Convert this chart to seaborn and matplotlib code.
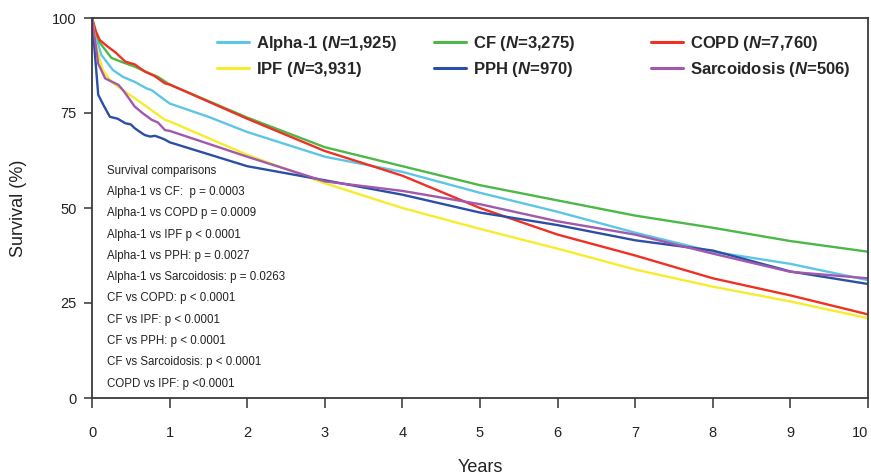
import numpy as np
import pandas as pd
import seaborn as sns
import matplotlib
matplotlib.use("Agg")
import matplotlib.pyplot as plt

# ---------------- data ----------------
groups = ["Alpha-1", "CF", "COPD", "IPF", "PPH", "Sarcoidosis"]
group_n = ["1,925", "3,275", "7,760", "3,931", "970", "506"]

alpha1_x = [0, 0.05, 0.12, 0.27, 0.4, 0.55, 0.7, 0.77, 0.9, 1.0, 1.5, 2, 3, 4, 5, 6, 7, 8, 9, 10]
alpha1_y = [100, 95, 90.3, 86.3, 84.5, 83.2, 81.5, 81, 79, 77.5, 74, 70, 63.5, 59.5, 54, 49, 43.5, 38.5, 35.3, 31]

cf_x = [0, 0.05, 0.1, 0.25, 0.4, 0.55, 0.7, 0.85, 1.0, 2, 3, 4, 5, 6, 7, 8, 9, 10]
cf_y = [100, 96, 93.5, 89.5, 88.3, 87.2, 85.8, 84.5, 82.5, 73.8, 66, 61, 56, 52, 48, 44.8, 41.3, 38.5]

copd_x = [0, 0.05, 0.1, 0.2, 0.3, 0.43, 0.55, 0.68, 0.8, 0.94, 1.0, 2, 3, 4, 5, 6, 7, 8, 9, 10]
copd_y = [100, 96.5, 94.2, 92.5, 91, 88.5, 87.8, 85.9, 84.8, 82.8, 82.5, 73.5, 65, 58.5, 50, 43, 37.5, 31.5, 27, 22]

ipf_x = [0, 0.05, 0.14, 0.25, 0.4, 0.55, 0.75, 0.94, 1.0, 2, 3, 4, 5, 6, 7, 8, 9, 10]
ipf_y = [100, 93, 86.3, 83.2, 81, 78.9, 76, 73.2, 72.8, 64, 56.5, 50, 44.5, 39.3, 33.8, 29.3, 25.4, 21]

pph_x = [0, 0.08, 0.15, 0.23, 0.33, 0.43, 0.5, 0.55, 0.62, 0.68, 0.75, 0.81, 0.88, 0.94, 1.0,
         2, 3, 4, 5, 6, 7, 8, 9, 10]
pph_y = [100, 79.8, 77, 74, 73.5, 72.3, 72, 71, 70, 69.2, 68.8, 69, 68.5, 68, 67.3,
         61, 57.3, 53.5, 48.8, 45.5, 41.5, 38.8, 33.3, 30]

sarc_x = [0, 0.08, 0.17, 0.25, 0.34, 0.4, 0.46, 0.55, 0.65, 0.77, 0.85, 0.94, 1.0,
          2, 3, 4, 5, 6, 7, 8, 9, 10]
sarc_y = [100, 88, 84.1, 83.3, 82.4, 81, 79.3, 76.7, 75, 73.2, 72.5, 70.5, 70.3,
          63.5, 57, 54.5, 51, 46.5, 43, 38, 33.2, 31.5]

comparisons = [
    "Survival comparisons",
    "Alpha-1 vs CF:  p = 0.0003",
    "Alpha-1 vs COPD p = 0.0009",
    "Alpha-1 vs IPF p < 0.0001",
    "Alpha-1 vs PPH: p = 0.0027",
    "Alpha-1 vs Sarcoidosis: p = 0.0263",
    "CF vs COPD: p < 0.0001",
    "CF vs IPF: p < 0.0001",
    "CF vs PPH: p < 0.0001",
    "CF vs Sarcoidosis: p < 0.0001",
    "COPD vs IPF: p <0.0001",
]

x_ticks = list(range(0, 11))
y_ticks = [0, 25, 50, 75, 100]

colors = {
    "Alpha-1": "#5CC6E4",
    "CF": "#4DB848",
    "COPD": "#EE3124",
    "IPF": "#F7EC2C",
    "PPH": "#2B4FA6",
    "Sarcoidosis": "#A258AC",
}

series = {
    "Alpha-1": (alpha1_x, alpha1_y),
    "CF": (cf_x, cf_y),
    "COPD": (copd_x, copd_y),
    "IPF": (ipf_x, ipf_y),
    "PPH": (pph_x, pph_y),
    "Sarcoidosis": (sarc_x, sarc_y),
}

frames = []
for g in groups:
    xs, ys = series[g]
    frames.append(pd.DataFrame({"Years": xs, "Survival": ys, "Group": g}))
df = pd.concat(frames, ignore_index=True)

# ---------------- style ----------------
sns.set_style("white")
plt.rcParams["font.family"] = ["Liberation Sans", "DejaVu Sans"]
plt.rcParams["mathtext.fontset"] = "custom"
plt.rcParams["mathtext.bfit"] = "Liberation Sans:italic:bold"
plt.rcParams["mathtext.it"] = "Liberation Sans:italic"
plt.rcParams["mathtext.rm"] = "Liberation Sans"
plt.rcParams["mathtext.bf"] = "Liberation Sans:bold"

fig = plt.figure(figsize=(8.71, 4.74), dpi=100)
ax = fig.add_axes([92 / 871, 1 - 398 / 474, 776 / 871, 380 / 474])

sns.lineplot(data=df, x="Years", y="Survival", hue="Group", hue_order=groups,
             palette=colors, linewidth=1.7, ax=ax, estimator=None, sort=False,
             legend=True)

handles, labels = ax.get_legend_handles_labels()
ax.get_legend().remove()
hmap = dict(zip(labels, handles))

ax.set_xlim(0, 10)
ax.set_ylim(0, 100)
ax.set_xticks(x_ticks)
ax.set_yticks(y_ticks)
ax.set_xticklabels([str(t) for t in x_ticks], fontsize=10.5)
ax.set_yticklabels([str(t) for t in y_ticks], fontsize=10.5)
# last x label sits at the right edge; keep it inside the canvas
ax.get_xticklabels()[-1].set_horizontalalignment("right")
ax.tick_params(axis="x", direction="out", length=7.5, width=1.1, pad=13,
               colors="#333333", labelcolor="#222222", bottom=True)
ax.tick_params(axis="y", direction="out", length=6, width=1.1, pad=5,
               colors="#333333", labelcolor="#222222", left=True)
for s in ax.spines.values():
    s.set_color("#3a3a3a")
    s.set_linewidth(1.3)

ax.set_xlabel("Years", fontsize=13, labelpad=13, color="#222222")
ax.set_ylabel("Survival (%)", fontsize=13, labelpad=18, color="#222222")

# legend: three columns placed separately
cols = [["Alpha-1", "IPF"], ["CF", "PPH"], ["COPD", "Sarcoidosis"]]
col_left_px = [217, 434, 651]
for names, xpx in zip(cols, col_left_px):
    hs = [hmap[n] for n in names]
    ls = [f"{n} ($\\mathbfit{{N}}$={group_n[groups.index(n)]})" for n in names]
    leg = fig.legend(hs, ls, loc="upper left",
                     bbox_to_anchor=(xpx / 871, 1 - 34 / 474),
                     bbox_transform=fig.transFigure, frameon=False,
                     borderpad=0, borderaxespad=0, handlelength=1.9,
                     handletextpad=0.45, labelspacing=0.42,
                     prop={"weight": "bold", "size": 12})
    for h in leg.legend_handles:
        h.set_linewidth(2.2)

# comparison text
y0 = (398 - 170.7) / 3.8
dy = 21.3 / 3.8
for i, line in enumerate(comparisons):
    ax.text(0.19, y0 - i * dy, line, fontsize=8.3, va="center", ha="left",
            color="#222222")

fig.savefig("out.png", dpi=100)
